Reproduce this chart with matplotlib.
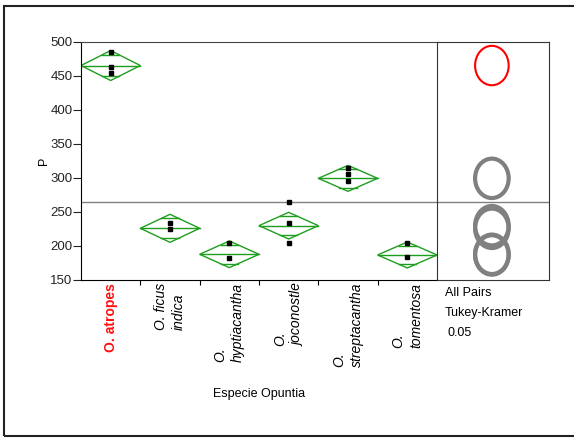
import matplotlib
matplotlib.use('Agg')
import matplotlib.pyplot as plt
from matplotlib.patches import Polygon, Ellipse, Rectangle
import numpy as np

plt.rcParams['font.family'] = ['Liberation Sans', 'DejaVu Sans']

species = ['O. atropes', 'O. ficus\nindica', 'O.\nhyptiacantha', 'O.\njoconostle',
           'O.\nstreptacantha', 'O.\ntomentosa']
points = [[484.8, 463.7, 454.0],
          [234.3, 224.5],
          [204.9, 182.8],
          [264.7, 234.3, 204.9],
          [314.3, 305.4, 295.6],
          [203.9, 183.8]]
means = [465.4, 226.0, 187.8, 229.9, 299.5, 186.8]
ci_half = [22.0, 20.6, 19.6, 19.6, 19.1, 19.1]
grand_mean = 265.0
circle_radius = 29.0

W, H = 574, 438
fig = plt.figure(figsize=(W / 100, H / 100), dpi=100)

# outer frame
fig.add_artist(Rectangle((4 / W, 1 - 436 / H), 575 / W, 430 / H, transform=fig.transFigure,
                         fill=False, ec='#222222', lw=1.5))

ax = fig.add_axes([81 / W, 1 - 280 / H, 356 / W, 238 / H])
axr = fig.add_axes([437 / W, 1 - 280 / H, 112 / W, 238 / H])

green = '#1e9e1e'
n = len(species)
for i in range(n):
    xc = i + 0.5
    m, h = means[i], ci_half[i]
    ax.add_patch(Polygon([[i, m], [xc, m + h], [i + 1, m], [xc, m - h]], closed=True,
                         fill=False, ec=green, lw=1.0))
    ax.plot([i, i + 1], [m, m], color=green, lw=1.0)
    k = h / np.sqrt(2)
    hw = 0.5 * (1 - 1 / np.sqrt(2))
    for s in (1, -1):
        ax.plot([xc - hw, xc + hw], [m + s * k, m + s * k], color=green, lw=1.0)
    ax.plot([xc] * len(points[i]), points[i], 's', color='black', ms=3.5, zorder=5)

ax.axhline(grand_mean, color='#808080', lw=1.0)
ax.set_xlim(0, n)
ax.set_ylim(150, 500)
ax.set_yticks([150, 200, 250, 300, 350, 400, 450, 500])
ax.tick_params(axis='y', length=5.5, width=0.8, pad=0.5, labelsize=9.5, colors='#222222')
ax.set_xticks(np.arange(n) + 0.5)
ax.set_xticklabels(species)
ax.set_xticks(np.arange(1, n), minor=True)
ax.tick_params(axis='x', which='major', length=0, pad=2)
ax.tick_params(axis='x', which='minor', length=3.5, width=0.8)
for j, lab in enumerate(ax.get_xticklabels()):
    lab.set_rotation(90)
    lab.set_va('top')
    lab.set_ha('center')
    lab.set_multialignment('left')
    lab.set_linespacing(1.3)
    lab.set_fontsize(10)
    if j == 0:
        lab.set_color('#ff1010')
        lab.set_fontweight('bold')
    else:
        lab.set_style('italic')
ax.set_ylabel('P', fontsize=9, labelpad=0)
ax.set_xlabel('Especie Opuntia', fontsize=9, labelpad=15)
ax.spines['top'].set_color('#444444')
ax.spines['right'].set_visible(False)

# comparison circles
axr.set_xlim(0, 1)
axr.set_ylim(150, 500)
axr.axhline(grand_mean, color='#808080', lw=1.0)
order = list(range(1, n)) + [0]
for i in order:
    col = '#ff0000' if i == 0 else '#808080'
    lw = 1.5 if i == 0 else 3.0
    axr.add_patch(Ellipse((0.49, means[i]), 0.30, 2 * circle_radius, fill=False, ec=col, lw=lw))
axr.set_xticks([])
axr.set_yticks([])
for sp in axr.spines.values():
    sp.set_color('#333333')

fig.text(445 / W, 1 - 293 / H, 'All Pairs', fontsize=9, va='center', ha='left')
fig.text(445 / W, 1 - 313 / H, 'Tukey-Kramer', fontsize=9, va='center', ha='left')
fig.text(448 / W, 1 - 333 / H, '0.05', fontsize=9, va='center', ha='left')

fig.savefig('out.png', dpi=100)
